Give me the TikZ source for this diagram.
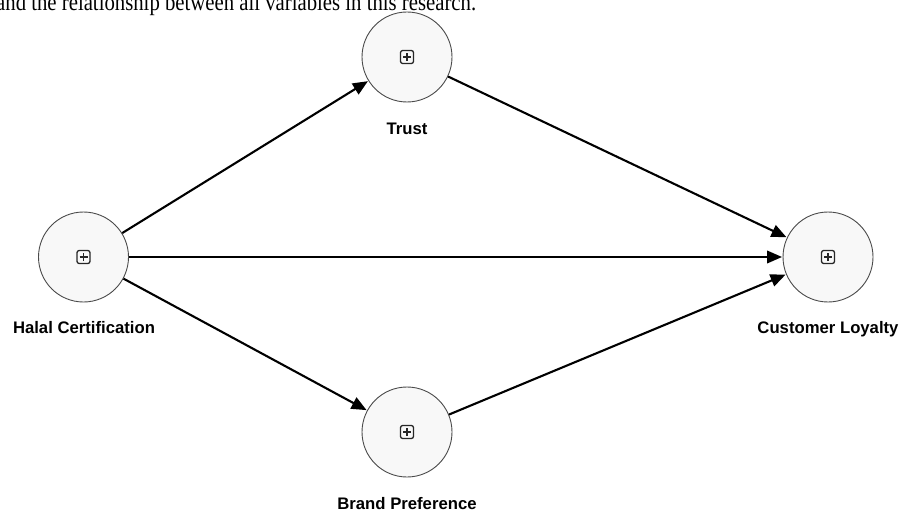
\documentclass[tikz,border=0pt]{standalone}
\usepackage{fontspec}
\setmainfont{Liberation Serif}
\setsansfont{Liberation Sans}
\usetikzlibrary{arrows.meta,calc}
\definecolor{circfill}{HTML}{F8F8F8}
\definecolor{circline}{HTML}{4A4A4A}
\tikzset{
  lv/.style={circle, draw=circline, line width=0.9pt, fill=circfill, minimum size=90pt, inner sep=0pt},
  lbl/.style={font=\sffamily\bfseries\fontsize{16.7pt}{18pt}\selectfont, anchor=base, inner sep=0pt},
  conn/.style={line width=2.1pt, -{Triangle[length=15pt,width=12.5pt]}, shorten >=0.5pt},
  icon/.style={draw=black!85, line width=1.3pt, rounded corners=2.2pt}
}
\newcommand{\plusicon}[1]{%
  \draw[icon] ($(#1)+(-6.5,-6.5)$) rectangle ($(#1)+(6.5,6.5)$);
  \draw[line width=1.3pt, black!85] ($(#1)+(-4,0)$) -- ($(#1)+(4,0)$);
  \draw[line width=1.3pt, black!85] ($(#1)+(0,-4)$) -- ($(#1)+(0,4)$);
}
\begin{document}
\begin{tikzpicture}[x=1pt,y=1pt]
\clip (0,0) rectangle (901,512);
\fill[white] (0,0) rectangle (901,512);
\node[anchor=base west, inner sep=0pt, font=\fontsize{20.75pt}{24pt}\selectfont] (toptext) at (-4,501) {\scalebox{1.0}[1.17]{and the relationship between all variables in this research.}};

\node[lv] (trust) at (407,455) {};
\node[lv] (halal) at (83.5,255) {};
\node[lv] (loyal) at (828,255) {};
\node[lv] (brand) at (407,80) {};

\plusicon{trust}
\plusicon{halal}
\plusicon{loyal}
\plusicon{brand}

\node[lbl] (ltrust) at (407,377) {Trust};
\node[lbl] (lhalal) at (84,179) {Halal Certification};
\node[lbl] (lloyal) at (828,179) {Customer Loyalty};
\node[lbl] (lbrand) at (407,3) {Brand Preference};

\draw[conn] (halal) -- (trust);
\draw[conn] (halal) -- (loyal);
\draw[conn] (halal) -- (brand);
\draw[conn] (trust) -- (loyal);
\draw[conn] (brand) -- (loyal);
\end{tikzpicture}
\end{document}
